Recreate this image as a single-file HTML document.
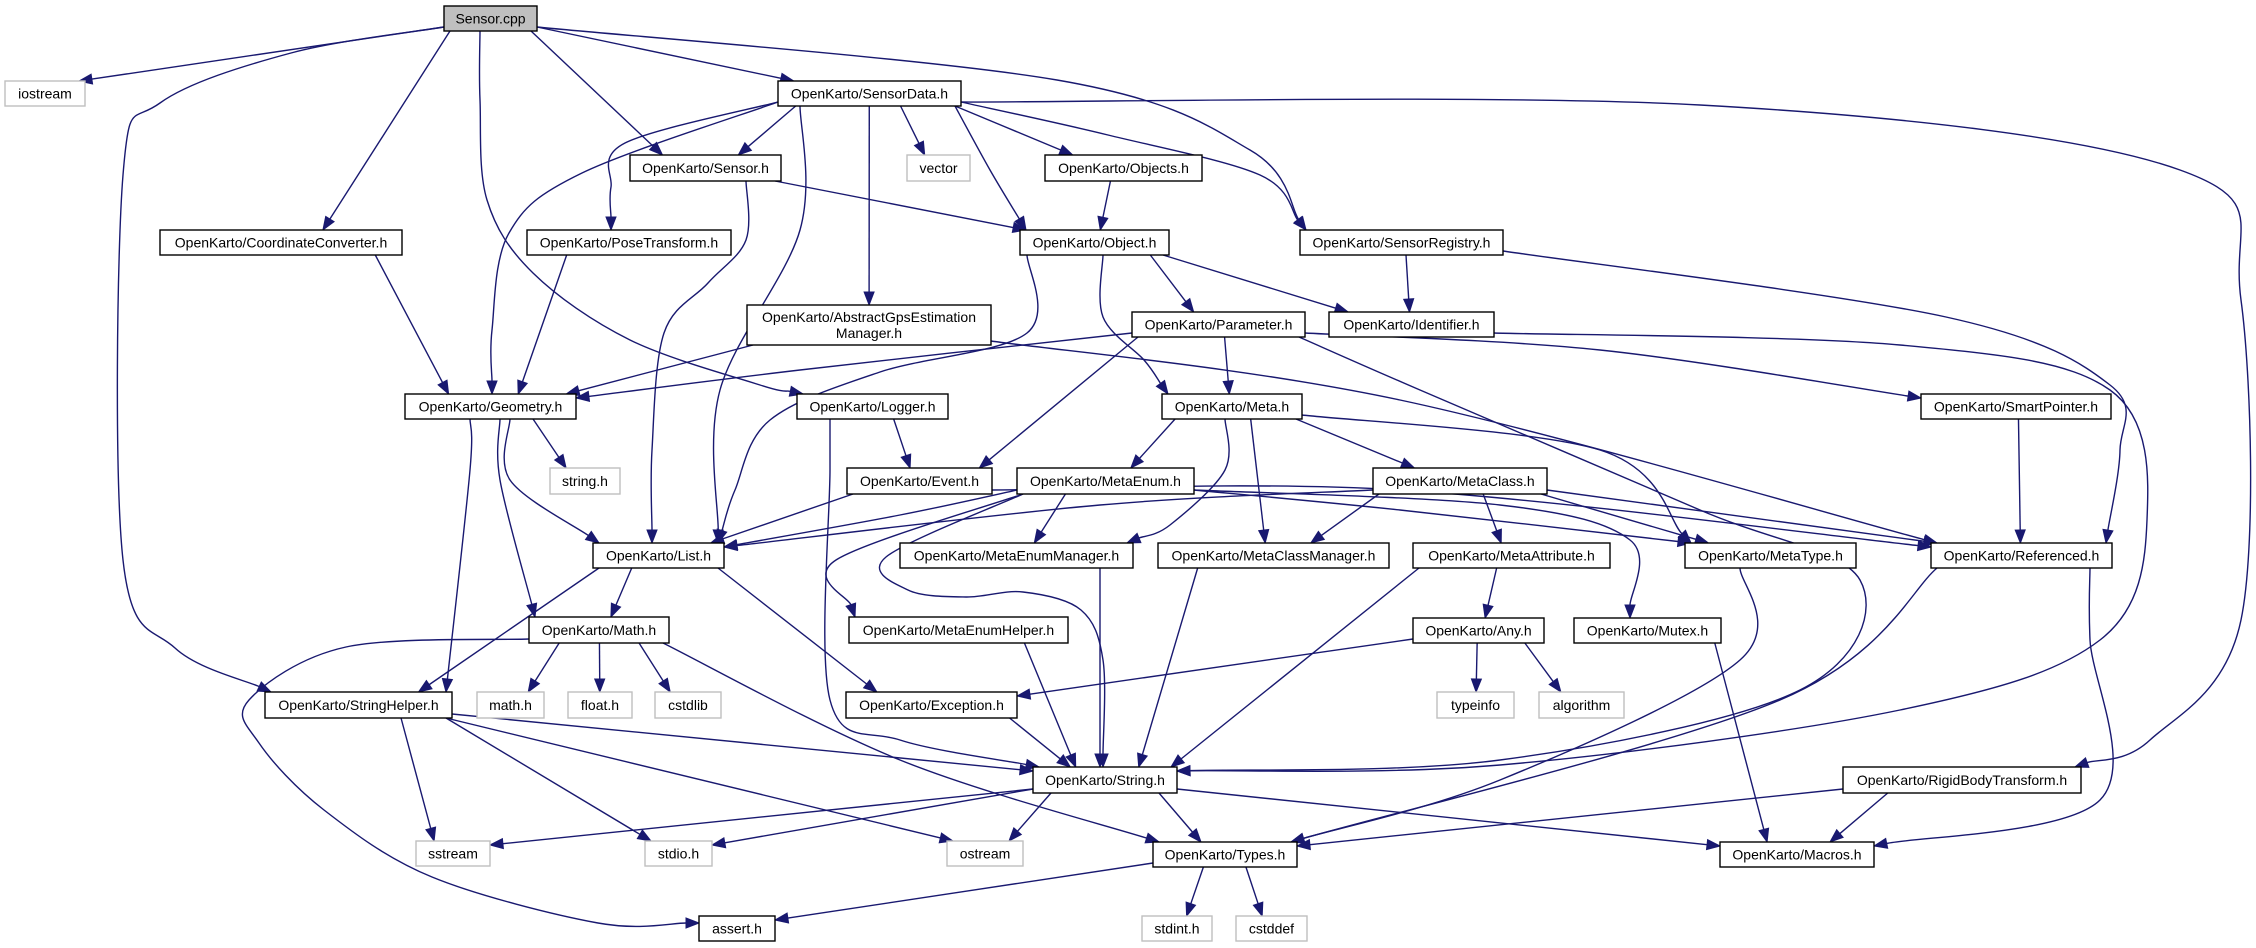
<!DOCTYPE html>
<html><head><meta charset="utf-8"><style>
html,body{margin:0;padding:0;background:#fff;}
svg{display:block;}
text{font-family:"Liberation Sans","DejaVu Sans",sans-serif;font-size:14px;fill:#000;}
.b{fill:#fff;stroke:#000;stroke-width:1.4;}
.g{fill:#fff;stroke:#bfbfbf;stroke-width:1.4;}
.r{fill:#bfbfbf;stroke:#000;stroke-width:1.4;}
</style></head><body>
<svg id="s" width="2256" height="948" viewBox="0 0 2256 948" xmlns="http://www.w3.org/2000/svg">
<g id="edges"></g>
<g id="nodes">
<rect class="r" x="444" y="6" width="93" height="25"/><text x="490.5" y="23.5" text-anchor="middle">Sensor.cpp</text>
<rect class="g" x="5" y="81" width="80" height="25"/><text x="45" y="98.5" text-anchor="middle">iostream</text>
<rect class="b" x="778" y="81" width="183" height="25"/><text x="869.5" y="98.5" text-anchor="middle">OpenKarto/SensorData.h</text>
<rect class="b" x="630" y="155" width="151" height="26"/><text x="705.5" y="173" text-anchor="middle">OpenKarto/Sensor.h</text>
<rect class="g" x="907" y="155" width="63" height="26"/><text x="938.5" y="173" text-anchor="middle">vector</text>
<rect class="b" x="1045" y="155" width="157" height="26"/><text x="1123.5" y="173" text-anchor="middle">OpenKarto/Objects.h</text>
<rect class="b" x="160" y="230" width="242" height="25"/><text x="281" y="247.5" text-anchor="middle">OpenKarto/CoordinateConverter.h</text>
<rect class="b" x="527" y="230" width="204" height="25"/><text x="629" y="247.5" text-anchor="middle">OpenKarto/PoseTransform.h</text>
<rect class="b" x="1020" y="230" width="149" height="25"/><text x="1094.5" y="247.5" text-anchor="middle">OpenKarto/Object.h</text>
<rect class="b" x="1300" y="230" width="203" height="25"/><text x="1401.5" y="247.5" text-anchor="middle">OpenKarto/SensorRegistry.h</text>
<rect class="b" x="747" y="305" width="244" height="40"/><text x="869" y="322" text-anchor="middle">OpenKarto/AbstractGpsEstimation</text><text x="869" y="338" text-anchor="middle">Manager.h</text>
<rect class="b" x="1132" y="312" width="173" height="25"/><text x="1218.5" y="329.5" text-anchor="middle">OpenKarto/Parameter.h</text>
<rect class="b" x="1329" y="312" width="165" height="25"/><text x="1411.5" y="329.5" text-anchor="middle">OpenKarto/Identifier.h</text>
<rect class="b" x="405" y="394" width="171" height="25"/><text x="490.5" y="411.5" text-anchor="middle">OpenKarto/Geometry.h</text>
<rect class="b" x="797" y="394" width="151" height="25"/><text x="872.5" y="411.5" text-anchor="middle">OpenKarto/Logger.h</text>
<rect class="b" x="1162" y="394" width="140" height="25"/><text x="1232" y="411.5" text-anchor="middle">OpenKarto/Meta.h</text>
<rect class="b" x="1921" y="394" width="190" height="25"/><text x="2016" y="411.5" text-anchor="middle">OpenKarto/SmartPointer.h</text>
<rect class="g" x="550" y="468" width="70" height="26"/><text x="585" y="486" text-anchor="middle">string.h</text>
<rect class="b" x="847" y="468" width="145" height="26"/><text x="919.5" y="486" text-anchor="middle">OpenKarto/Event.h</text>
<rect class="b" x="1017" y="468" width="177" height="26"/><text x="1105.5" y="486" text-anchor="middle">OpenKarto/MetaEnum.h</text>
<rect class="b" x="1373" y="468" width="174" height="26"/><text x="1460" y="486" text-anchor="middle">OpenKarto/MetaClass.h</text>
<rect class="b" x="593" y="543" width="131" height="25"/><text x="658.5" y="560.5" text-anchor="middle">OpenKarto/List.h</text>
<rect class="b" x="900" y="543" width="233" height="25"/><text x="1016.5" y="560.5" text-anchor="middle">OpenKarto/MetaEnumManager.h</text>
<rect class="b" x="1158" y="543" width="231" height="25"/><text x="1273.5" y="560.5" text-anchor="middle">OpenKarto/MetaClassManager.h</text>
<rect class="b" x="1413" y="543" width="197" height="25"/><text x="1511.5" y="560.5" text-anchor="middle">OpenKarto/MetaAttribute.h</text>
<rect class="b" x="1685" y="543" width="171" height="25"/><text x="1770.5" y="560.5" text-anchor="middle">OpenKarto/MetaType.h</text>
<rect class="b" x="1931" y="543" width="181" height="25"/><text x="2021.5" y="560.5" text-anchor="middle">OpenKarto/Referenced.h</text>
<rect class="b" x="529" y="617" width="140" height="26"/><text x="599" y="635" text-anchor="middle">OpenKarto/Math.h</text>
<rect class="b" x="849" y="617" width="219" height="26"/><text x="958.5" y="635" text-anchor="middle">OpenKarto/MetaEnumHelper.h</text>
<rect class="b" x="1413" y="618" width="131" height="25"/><text x="1478.5" y="635.5" text-anchor="middle">OpenKarto/Any.h</text>
<rect class="b" x="1574" y="618" width="147" height="25"/><text x="1647.5" y="635.5" text-anchor="middle">OpenKarto/Mutex.h</text>
<rect class="b" x="265" y="692" width="187" height="26"/><text x="358.5" y="710" text-anchor="middle">OpenKarto/StringHelper.h</text>
<rect class="g" x="477" y="692" width="67" height="26"/><text x="510.5" y="710" text-anchor="middle">math.h</text>
<rect class="g" x="568" y="692" width="64" height="26"/><text x="600" y="710" text-anchor="middle">float.h</text>
<rect class="g" x="655" y="692" width="66" height="26"/><text x="688" y="710" text-anchor="middle">cstdlib</text>
<rect class="b" x="846" y="692" width="171" height="26"/><text x="931.5" y="710" text-anchor="middle">OpenKarto/Exception.h</text>
<rect class="g" x="1437" y="692" width="77" height="26"/><text x="1475.5" y="710" text-anchor="middle">typeinfo</text>
<rect class="g" x="1539" y="692" width="85" height="26"/><text x="1581.5" y="710" text-anchor="middle">algorithm</text>
<rect class="b" x="1033" y="767" width="144" height="26"/><text x="1105" y="785" text-anchor="middle">OpenKarto/String.h</text>
<rect class="b" x="1843" y="767" width="238" height="26"/><text x="1962" y="785" text-anchor="middle">OpenKarto/RigidBodyTransform.h</text>
<rect class="g" x="416" y="841" width="74" height="25"/><text x="453" y="858.5" text-anchor="middle">sstream</text>
<rect class="g" x="645" y="841" width="67" height="25"/><text x="678.5" y="858.5" text-anchor="middle">stdio.h</text>
<rect class="g" x="947" y="841" width="76" height="25"/><text x="985" y="858.5" text-anchor="middle">ostream</text>
<rect class="b" x="1153" y="842" width="144" height="25"/><text x="1225" y="859.5" text-anchor="middle">OpenKarto/Types.h</text>
<rect class="b" x="1720" y="842" width="154" height="25"/><text x="1797" y="859.5" text-anchor="middle">OpenKarto/Macros.h</text>
<rect class="b" x="699" y="916" width="76" height="25"/><text x="737" y="933.5" text-anchor="middle">assert.h</text>
<rect class="g" x="1142" y="916" width="70" height="25"/><text x="1177" y="933.5" text-anchor="middle">stdint.h</text>
<rect class="g" x="1236" y="916" width="71" height="25"/><text x="1271.5" y="933.5" text-anchor="middle">cstddef</text>
</g>
</svg>
<script>
(function(){
var N={};
var rs=document.querySelectorAll('#nodes rect');
var ts=[];document.querySelectorAll('#nodes text').forEach(function(t){ts.push(t)});
rs.forEach(function(r){
 var x=+r.getAttribute('x'),y=+r.getAttribute('y'),w=+r.getAttribute('width'),h=+r.getAttribute('height');
 var cx=x+w/2;
 var best=null,bd=1e9;
 ts.forEach(function(t){var d=Math.abs(+t.getAttribute('x')-cx)+Math.abs(+t.getAttribute('y')-y-h/2);if(d<bd){bd=d;best=t;}});
 var name=best.textContent.replace('OpenKarto/','');
 N[name]={x1:x,x2:x+w,y1:y,y2:y+h,cx:cx,cy:y+h/2};
});
function cl(v,a,b){return Math.max(a,Math.min(b,v));}
function anc(n,side,tw){
 if(side=='T')return [cl(tw[0],n.x1+6,n.x2-6),n.y1];
 if(side=='B')return [cl(tw[0],n.x1+6,n.x2-6),n.y2];
 if(side=='L')return [n.x1,cl(tw[1],n.y1+4,n.y2-4)];
 return [n.x2,cl(tw[1],n.y1+4,n.y2-4)];
}
var E=[
['Sensor.cpp','iostream',[],'L','T'],
['Sensor.cpp','StringHelper.h',[[291,53],[160,103],[123,175],[123,560],[175,648]],'L','T'],
['Sensor.cpp','CoordinateConverter.h',[],'B','T'],
['Sensor.cpp','Logger.h',[[480,100],[487,200],[533,273],[630,340],[760,385]],'B','T'],
['Sensor.cpp','Sensor.h',[],'B','T'],
['Sensor.cpp','SensorData.h',[],'R','T'],
['Sensor.cpp','SensorRegistry.h',[[1057,80],[1250,150]],'R','T'],
['SensorData.h','Sensor.h',[],'B','T'],
['SensorData.h','Geometry.h',[[582,173],[509,233],[492,330]],'L','T'],
['SensorData.h','PoseTransform.h',[[625,143],[611,187]],'L','T'],
['SensorData.h','List.h',[[800,230],[720,390]],'B','T'],
['SensorData.h','AbstractGpsEstimation',[],'B','T'],
['SensorData.h','vector',[],'B','T'],
['SensorData.h','Object.h',[[990,170]],'B','T'],
['SensorData.h','Objects.h',[],'B','T'],
['SensorData.h','SensorRegistry.h',[[1108,135],[1260,175]],'R','T'],
['SensorData.h','RigidBodyTransform.h',[[1700,105],[2180,170],[2241,300],[2241,620],[2150,740]],'R','T'],
['Sensor.h','Object.h',[],'B','T'],
['Sensor.h','List.h',[[746,240],[708,283],[664,333],[652,450]],'B','T'],
['Objects.h','Object.h',[],'B','T'],
['CoordinateConverter.h','Geometry.h',[],'B','T'],
['PoseTransform.h','Geometry.h',[],'B','T'],
['Object.h','Identifier.h',[],'B','T'],
['Object.h','Parameter.h',[],'B','T'],
['Object.h','Meta.h',[[1103,317],[1144,360]],'B','T'],
['Object.h','List.h',[[1027,333],[880,372],[770,420],[735,490]],'B','T'],
['SensorRegistry.h','Identifier.h',[],'B','T'],
['SensorRegistry.h','Referenced.h',[[1946,317],[2110,385],[2120,450]],'R','T'],
['Identifier.h','String.h',[[1900,345],[2110,390],[2147,520],[2100,640],[1900,710],[1500,765]],'R','R'],
['AbstractGpsEstimation','Geometry.h',[],'B','T'],
['AbstractGpsEstimation','Referenced.h',[[1400,400]],'R','T'],
['Parameter.h','Geometry.h',[[800,370]],'L','R'],
['Parameter.h','Event.h',[],'B','T'],
['Parameter.h','Meta.h',[],'B','T'],
['Parameter.h','SmartPointer.h',[[1600,350]],'R','L'],
['Parameter.h','String.h',[[1420,390],[1700,510],[1860,580],[1800,690],[1500,760]],'B','R'],
['Geometry.h','string.h',[],'B','T'],
['Geometry.h','List.h',[[510,480]],'B','T'],
['Geometry.h','Math.h',[[500,480]],'B','T'],
['Geometry.h','StringHelper.h',[[470,470]],'B','T'],
['Logger.h','Event.h',[],'B','T'],
['Logger.h','String.h',[[830,470],[830,700],[900,740]],'B','T'],
['Meta.h','MetaEnum.h',[],'B','T'],
['Meta.h','MetaClass.h',[],'B','T'],
['Meta.h','MetaEnumManager.h',[[1225,470],[1170,525]],'B','T'],
['Meta.h','MetaClassManager.h',[],'B','T'],
['Meta.h','MetaType.h',[[1600,450]],'R','T'],
['SmartPointer.h','Referenced.h',[],'B','T'],
['Event.h','List.h',[],'B','T'],
['Event.h','Referenced.h',[[1400,490]],'R','L'],
['MetaEnum.h','List.h',[[900,515]],'L','R'],
['MetaEnum.h','MetaEnumManager.h',[],'B','T'],
['MetaEnum.h','MetaEnumHelper.h',[[836,560]],'B','T'],
['MetaEnum.h','String.h',[[886,557],[908,590],[966,597],[1023,592],[1081,610],[1103,660]],'B','T'],
['MetaEnum.h','MetaType.h',[[1400,510]],'R','T'],
['MetaEnum.h','Mutex.h',[[1500,505],[1630,540]],'R','T'],
['MetaClass.h','List.h',[[1100,505]],'L','R'],
['MetaClass.h','MetaClassManager.h',[],'B','T'],
['MetaClass.h','MetaAttribute.h',[],'B','T'],
['MetaClass.h','MetaType.h',[],'B','T'],
['MetaClass.h','Referenced.h',[],'R','T'],
['List.h','Math.h',[],'B','T'],
['List.h','StringHelper.h',[],'B','T'],
['List.h','Exception.h',[],'B','T'],
['MetaEnumManager.h','String.h',[[1100,630]],'B','T'],
['MetaClassManager.h','String.h',[],'B','T'],
['MetaAttribute.h','Any.h',[],'B','T'],
['MetaAttribute.h','String.h',[],'B','T'],
['MetaEnumHelper.h','String.h',[],'B','T'],
['MetaType.h','Types.h',[[1740,660],[1500,780]],'B','T'],
['Referenced.h','Types.h',[[1780,700]],'B','T'],
['Referenced.h','Macros.h',[[2090,640],[2100,800]],'B','R'],
['Math.h','math.h',[],'B','T'],
['Math.h','float.h',[],'B','T'],
['Math.h','cstdlib',[],'B','T'],
['Math.h','assert.h',[[346,647],[249,700],[259,743],[324,810],[432,877],[598,923]],'L','L'],
['Math.h','Types.h',[[900,760]],'B','T'],
['Any.h','Exception.h',[],'L','R'],
['Any.h','typeinfo',[],'B','T'],
['Any.h','algorithm',[],'B','T'],
['Mutex.h','Macros.h',[],'B','T'],
['StringHelper.h','sstream',[],'B','T'],
['StringHelper.h','stdio.h',[],'B','T'],
['StringHelper.h','ostream',[],'B','T'],
['StringHelper.h','String.h',[],'R','L'],
['Exception.h','String.h',[],'B','T'],
['String.h','sstream',[],'L','R'],
['String.h','stdio.h',[],'L','R'],
['String.h','ostream',[],'B','T'],
['String.h','Types.h',[],'B','T'],
['String.h','Macros.h',[],'R','L'],
['RigidBodyTransform.h','Types.h',[],'L','R'],
['RigidBodyTransform.h','Macros.h',[],'B','T'],
['Types.h','stdint.h',[],'B','T'],
['Types.h','cstddef',[],'B','T'],
['Types.h','assert.h',[],'L','R']
];
var g=document.getElementById('edges'),out='';
E.forEach(function(e){
 var s=N[e[0]],t=N[e[1]];if(!s||!t)return;
 var v=e[2];
 var tw0=v.length?v[0]:[s.cx+(t.cx-s.cx)*0.45,s.cy+(t.cy-s.cy)*0.45];
 var tw1=v.length?v[v.length-1]:[t.cx+(s.cx-t.cx)*0.2,t.cy+(s.cy-t.cy)*0.2];
 var p0=anc(s,e[3],tw0),pn=anc(t,e[4],tw1);
 var P=[p0].concat(v).concat([pn]);
 var L=P.length,a=P[L-2],b=P[L-1];
 var dx=b[0]-a[0],dy=b[1]-a[1],d=Math.hypot(dx,dy)||1;dx/=d;dy/=d;
 var al=13,aw=5;
 var be=[b[0]-dx*al,b[1]-dy*al];P[L-1]=be;
 var path='M'+P[0][0]+','+P[0][1];
 if(P.length==2){path+=' L'+be[0]+','+be[1];}
 else{for(var i=0;i<P.length-1;i++){var q0=P[Math.max(0,i-1)],q1=P[i],q2=P[i+1],q3=P[Math.min(P.length-1,i+2)];
  var c1=[q1[0]+(q2[0]-q0[0])/6,q1[1]+(q2[1]-q0[1])/6],c2=[q2[0]-(q3[0]-q1[0])/6,q2[1]-(q3[1]-q1[1])/6];
  path+=' C'+c1[0].toFixed(1)+','+c1[1].toFixed(1)+' '+c2[0].toFixed(1)+','+c2[1].toFixed(1)+' '+q2[0].toFixed(1)+','+q2[1].toFixed(1);}}
 out+='<path d="'+path+'" fill="none" stroke="#191970" stroke-width="1.4"/>';
 var px=-dy,py=dx;
 out+='<polygon points="'+b[0]+','+b[1]+' '+(be[0]+px*aw).toFixed(1)+','+(be[1]+py*aw).toFixed(1)+' '+(be[0]-px*aw).toFixed(1)+','+(be[1]-py*aw).toFixed(1)+'" fill="#191970" stroke="#191970"/>';
});
g.innerHTML=out;
})();
</script>
</body></html>
